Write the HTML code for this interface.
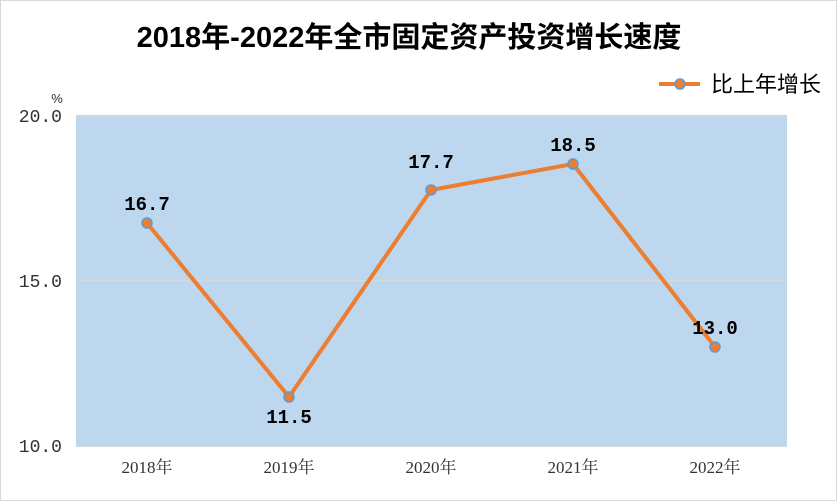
<!DOCTYPE html>
<html><head><meta charset="utf-8"><style>
body{margin:0;background:#fff;}
svg{display:block;}
</style></head><body>
<svg width="837" height="501" xmlns="http://www.w3.org/2000/svg">
<rect x="0.5" y="0.5" width="836" height="500" fill="#fff" stroke="#d9d9d9"/>
<text x="409" y="47" text-anchor="middle" font-family="Liberation Sans, Noto Sans CJK SC, sans-serif" font-size="29" font-weight="bold" fill="#000">2018年-2022年全市固定资产投资增长速度</text>
<rect x="76" y="115" width="711" height="331" fill="#bdd7ee"/>
<line x1="76" y1="115.5" x2="787" y2="115.5" stroke="#d9d9d9" stroke-width="1.5"/>
<line x1="76" y1="280.5" x2="787" y2="280.5" stroke="#d9d9d9" stroke-width="1"/>
<line x1="76" y1="446.5" x2="787" y2="446.5" stroke="#d9d9d9" stroke-width="1"/>
<g font-family="Liberation Mono, Noto Sans CJK SC, monospace" font-size="18" fill="#333" text-anchor="end">
<text x="62" y="122">20.0</text>
<text x="62" y="287">15.0</text>
<text x="62" y="452">10.0</text>
</g>
<text x="57" y="103" text-anchor="middle" font-family="Liberation Sans, sans-serif" font-size="13" fill="#333">%</text>
<g font-family="Liberation Serif, Noto Serif CJK SC, serif" font-size="17" fill="#333" text-anchor="middle">
<text x="147" y="473">2018年</text>
<text x="289" y="473">2019年</text>
<text x="431" y="473">2020年</text>
<text x="573" y="473">2021年</text>
<text x="715" y="473">2022年</text>
</g>
<polyline points="147,223 289,397 431,190 573,164 715,347" fill="none" stroke="#ed7d31" stroke-width="4" stroke-linejoin="round"/>
<g fill="#ed7d31" stroke="#5b9bd5" stroke-width="1.5">
<circle cx="147" cy="223" r="5"/><circle cx="289" cy="397" r="5"/><circle cx="431" cy="190" r="5"/><circle cx="573" cy="164" r="5"/><circle cx="715" cy="347" r="5"/>
</g>
<g font-family="Liberation Mono, monospace" font-size="19" font-weight="bold" fill="#000" text-anchor="middle">
<text x="147" y="210">16.7</text>
<text x="289" y="423">11.5</text>
<text x="431" y="168">17.7</text>
<text x="573" y="151">18.5</text>
<text x="715" y="334">13.0</text>
</g>
<line x1="659" y1="84" x2="700" y2="84" stroke="#ed7d31" stroke-width="4"/>
<circle cx="680" cy="84" r="5" fill="#ed7d31" stroke="#5b9bd5" stroke-width="1.5"/>
<text x="711" y="92" font-family="Noto Sans CJK SC, sans-serif" font-size="22" fill="#000">比上年增长</text>
</svg>
</body></html>
